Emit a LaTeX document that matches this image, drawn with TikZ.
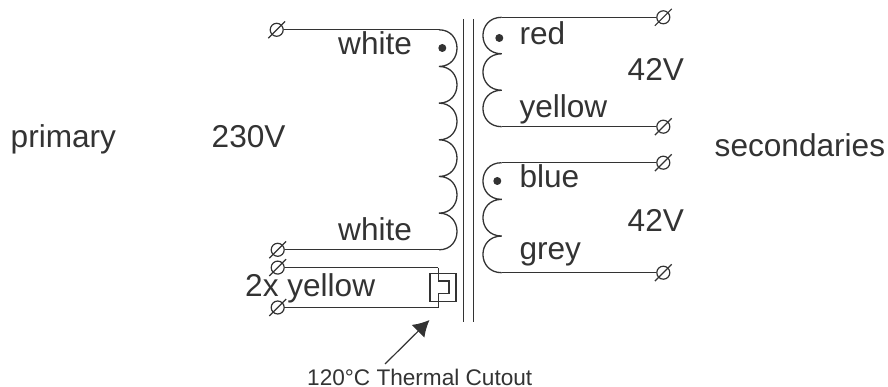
\documentclass[tikz,border=0pt]{standalone}
\usepackage{fontspec}
\setmainfont{Liberation Sans}
\usetikzlibrary{arrows.meta,calc}
\definecolor{ink}{gray}{0.2}
\tikzset{
  wire/.style={draw=ink,line width=1.3pt},
  term/.style={circle,draw=ink,line width=1.2pt,minimum size=13pt,inner sep=0pt,
    append after command={
      \pgfextra{\draw[ink,line width=1.2pt] (\tikzlastnode.center)++(-8.4,8.4) -- ++(16.8,-16.8);}}},
  lab/.style={anchor=base west,inner sep=0pt,text=ink,font=\fontsize{31.6}{36}\selectfont},
  caplab/.style={anchor=base west,inner sep=0pt,text=ink,font=\fontsize{22.6}{27}\selectfont},
  dotmark/.style={circle,fill=ink,minimum size=8pt,inner sep=0pt},
  core/.style={draw=ink,line width=1.2pt},
  fuse/.style={draw=ink,line width=1.2pt},
  pointer/.style={color=ink,line width=1.2pt,-{Latex[length=16pt,width=18pt]}}
}
\begin{document}
\begin{tikzpicture}[x=1pt,y=-1pt]
\useasboundingbox (0,0) rectangle (888,387);
% terminals
\node[term] (t1) at (276.7,29.8) {};
\node[term] (t2) at (277.7,249.8) {};
\node[term] (t3) at (277.7,267.6) {};
\node[term] (t4) at (277.7,307.5) {};
\node[term] (t5) at (663.3,17.3) {};
\node[term] (t6) at (663.3,126.7) {};
\node[term] (t7) at (663.3,162.7) {};
\node[term] (t8) at (663.3,272.7) {};
% coil ends and wire corners
\coordinate (pa) at (439,29.8);
\coordinate (pb) at (439,249.8);
\coordinate (c3) at (438.3,267.6);
\coordinate (c4) at (438.3,307.5);
\coordinate (sa) at (501.7,17.3);
\coordinate (sb) at (501.7,126.7);
\coordinate (sc) at (501.7,162.7);
\coordinate (sd) at (501.7,272.7);
% core
\coordinate (k1a) at (463.5,19);
\coordinate (k1b) at (463.5,321.5);
\coordinate (k2a) at (473.5,19);
\coordinate (k2b) at (473.5,321.5);
\draw[core] (k1a) -- (k1b);
\draw[core] (k2a) -- (k2b);
% primary
\draw[wire] (t1) -- (pa);
\draw[wire] (t2) -- (pb);
\draw[wire] (pa)
  \foreach \i in {0,...,5}{ .. controls +(24,0) and ($(pa)+(24,{(\i+1)*36.667})$) .. ($(pa)+(0,{(\i+1)*36.667})$) };
% secondaries
\draw[wire] (sa) -- (t5);
\draw[wire] (sb) -- (t6);
\draw[wire] (sc) -- (t7);
\draw[wire] (sd) -- (t8);
\draw[wire] (sa)
  \foreach \i in {0,1,2}{ .. controls +(-25,0) and ($(sa)+(-25,{(\i+1)*36.467})$) .. ($(sa)+(0,{(\i+1)*36.467})$) };
\draw[wire] (sc)
  \foreach \i in {0,1,2}{ .. controls +(-25,0) and ($(sc)+(-25,{(\i+1)*36.667})$) .. ($(sc)+(0,{(\i+1)*36.667})$) };
% thermal cutout
\draw[wire] (t3) -- (c3);
\draw[wire] (t4) -- (c4);
\node[fuse,draw,minimum width=26pt,minimum height=28pt,inner sep=0pt] (cut) at (443,287.3) {};
\draw[fuse] (c3) -- (438.3,281) -- (449,281) -- (449,293.3) -- (438.3,293.3) -- (c4);
% dots
\node[dotmark] (d1) at (442.3,48) {};
\node[dotmark] (d2) at (499.3,38) {};
\node[dotmark] (d3) at (497.3,181) {};
% labels
\node[lab] (l1) at (10.5,147.5) {primary};
\node[lab] (l2) at (211.5,147.5) {230V};
\node[lab] (l3) at (338,55) {white};
\node[lab] (l4) at (338,240.7) {white};
\node[lab] (l5) at (245,296) {2x yellow};
\node[lab] (l6) at (519.3,45) {red};
\node[lab] (l7) at (627.5,81) {42V};
\node[lab] (l8) at (519.3,117.5) {yellow};
\node[lab] (l9) at (519.3,188) {blue};
\node[lab] (l10) at (627.5,232) {42V};
\node[lab] (l11) at (519.3,259.5) {grey};
\node[lab] (l12) at (714.5,156.5) {secondaries};
\node[caplab] (l13) at (307,385) {120°C Thermal Cutout};
% pointer
\coordinate (ar) at (385,364);
\coordinate (at) at (429.5,320);
\draw[pointer] (ar) -- (at);
\end{tikzpicture}
\end{document}
